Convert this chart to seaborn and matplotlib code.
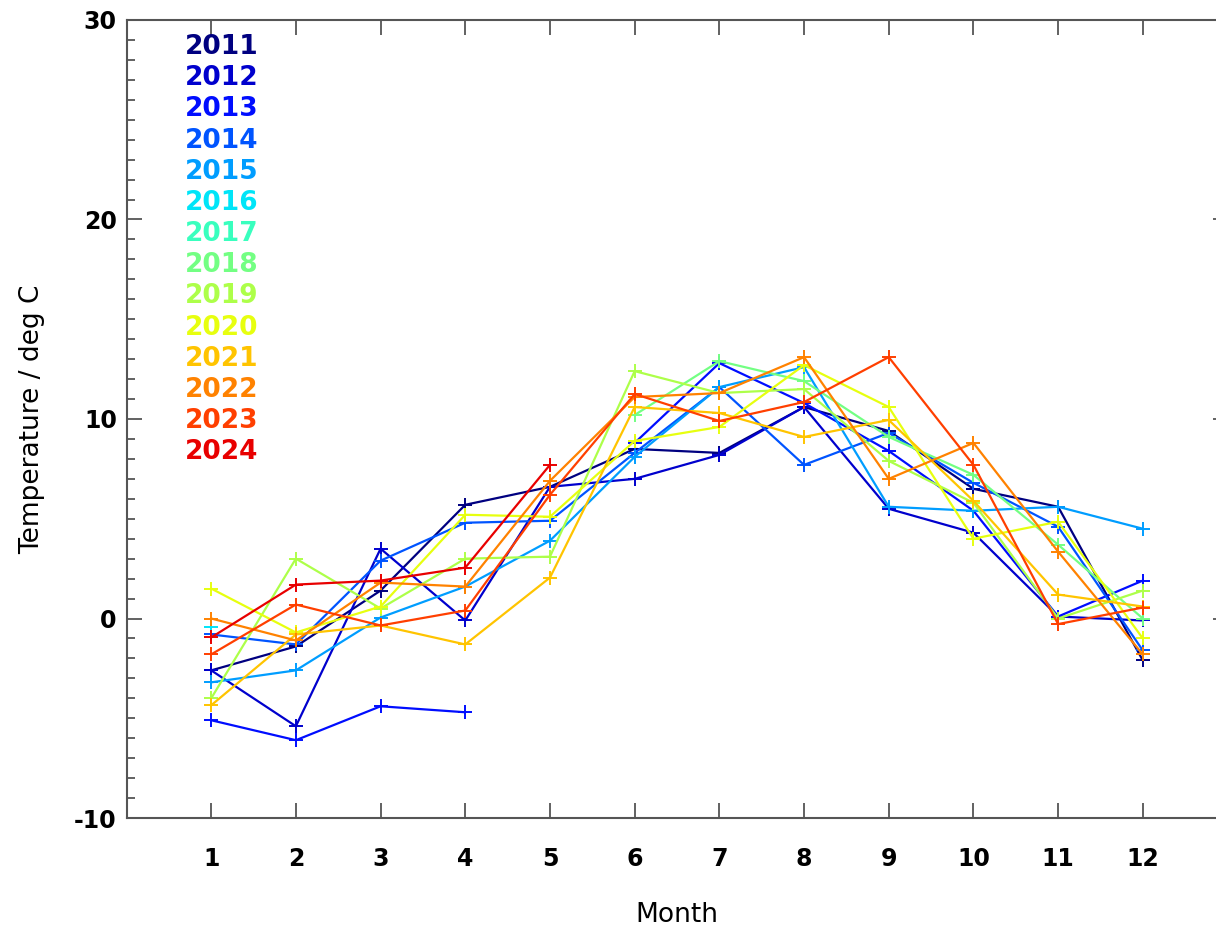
import numpy as np
import pandas as pd
import matplotlib
matplotlib.use("Agg")
import matplotlib.pyplot as plt
from matplotlib.ticker import MultipleLocator
import seaborn as sns

nan = np.nan

# Monthly mean temperature (deg C) per year; nan = no data for that month
months = [1, 2, 3, 4, 5, 6, 7, 8, 9, 10, 11, 12]
years = [2011, 2012, 2013, 2014, 2015, 2016, 2017,
         2018, 2019, 2020, 2021, 2022, 2023, 2024]

t2011 = [-2.6, -1.4, 1.4, 5.7, 6.6, 8.5, 8.3, 10.6, 9.4, 6.5, 5.6, -2.1]
t2012 = [-2.6, -5.4, 3.5, -0.1, 6.6, 7.0, 8.2, 10.6, 5.5, 4.3, 0.1, -0.1]
t2013 = [-5.1, -6.1, -4.4, -4.7, nan, 8.8, 12.8, 10.8, 8.4, 5.4, 0.1, 1.9]
t2014 = [-0.8, -1.3, 2.9, 4.8, 4.9, 8.3, 11.6, 7.7, 9.3, 6.8, 4.6, -1.6]
t2015 = [-3.2, -2.6, 0.05, 1.6, 3.9, 8.1, 11.6, 12.6, 5.6, 5.4, 5.6, 4.5]
t2016 = [-0.45, nan, nan, nan, nan, nan, nan, nan, nan, nan, nan, nan]
t2017 = [nan, nan, nan, nan, nan, nan, nan, nan, nan, nan, nan, nan]
t2018 = [nan, nan, nan, nan, nan, 10.2, 12.9, 11.9, 9.1, 7.2, 3.7, 0.0]
t2019 = [-4.0, 3.0, 0.5, 3.0, 3.1, 12.4, 11.3, 11.5, 7.9, 5.8, 0.0, 1.4]
t2020 = [1.5, -0.7, 0.6, 5.2, 5.1, 8.9, 9.6, 12.7, 10.6, 4.0, 4.85, -1.0]
t2021 = [-4.35, -0.8, -0.35, -1.3, 2.05, 10.6, 10.3, 9.1, 9.95, 5.9, 1.2, 0.6]
t2022 = [0.0, -1.1, 1.8, 1.6, 6.9, 11.1, 11.3, 13.1, 7.0, 8.8, 3.35, -1.8]
t2023 = [-1.8, 0.7, -0.35, 0.4, 6.2, 11.25, 9.9, 10.85, 13.1, 7.7, -0.28, 0.55]
t2024 = [-0.95, 1.7, 1.9, 2.55, 7.7, nan, nan, nan, nan, nan, nan, nan]

series = [t2011, t2012, t2013, t2014, t2015, t2016, t2017,
          t2018, t2019, t2020, t2021, t2022, t2023, t2024]

# long-form table; a new segment starts after every missing month so gaps stay open
rows = []
for yr, vals in zip(years, series):
    seg = 0
    for m, v in zip(months, vals):
        if np.isnan(v):
            seg += 1
            continue
        rows.append({"month": m, "temp": v, "year": yr, "segment": f"{yr}-{seg}"})
df = pd.DataFrame(rows)

cmap = matplotlib.colormaps["jet"]
palette = {yr: cmap(0.07 * i) for i, yr in enumerate(years)}

sns.set_theme(style="white")
plt.rcParams["font.family"] = ["DejaVu Sans"]
plt.rcParams["axes.unicode_minus"] = False

fig = plt.figure(figsize=(12.16, 9.27), dpi=100)
ax = fig.add_axes([126.5 / 1216, 109 / 927, 1101 / 1216, 798 / 927])

sns.lineplot(data=df, x="month", y="temp", hue="year", units="segment",
             estimator=None, palette=palette, marker="+", markersize=10,
             linewidth=1.6, legend=False, ax=ax)
for ln in ax.lines:
    ln.set_markeredgecolor(ln.get_color())
    ln.set_markeredgewidth(1.4)

ax.set_xlim(0, 13)
ax.set_ylim(-10, 30)
ax.set_xticks(months)
ax.set_xticklabels([str(m) for m in months])
ax.set_yticks([-10, 0, 10, 20, 30])
ax.yaxis.set_minor_locator(MultipleLocator(1))

axis_col = "#555555"
for sp in ax.spines.values():
    sp.set_visible(True)
    sp.set_color(axis_col)
    sp.set_linewidth(1.5)

ax.tick_params(axis="both", which="both", direction="in", color=axis_col,
               width=1.3, top=True, right=True, bottom=True, left=True)
ax.tick_params(axis="both", which="major", length=11, labelsize=17)
ax.tick_params(axis="y", which="minor", length=6)
ax.tick_params(axis="x", which="major", pad=21)
ax.tick_params(axis="y", which="major", pad=7)
for lab in ax.get_xticklabels() + ax.get_yticklabels():
    lab.set_fontweight("bold")
    lab.set_color("black")

ax.set_xlabel("Month", fontsize=19, labelpad=22, color="black")
ax.set_ylabel("Temperature / deg C", fontsize=19, labelpad=21, color="black")

# year key in the upper-left corner, one coloured label per year
for i, yr in enumerate(years):
    ax.text(0.0531, 0.966 - 0.03904 * i, str(yr), transform=ax.transAxes,
            ha="left", va="center", fontsize=19, fontweight="bold",
            color=palette[yr])

fig.savefig("out.png", dpi=100)
